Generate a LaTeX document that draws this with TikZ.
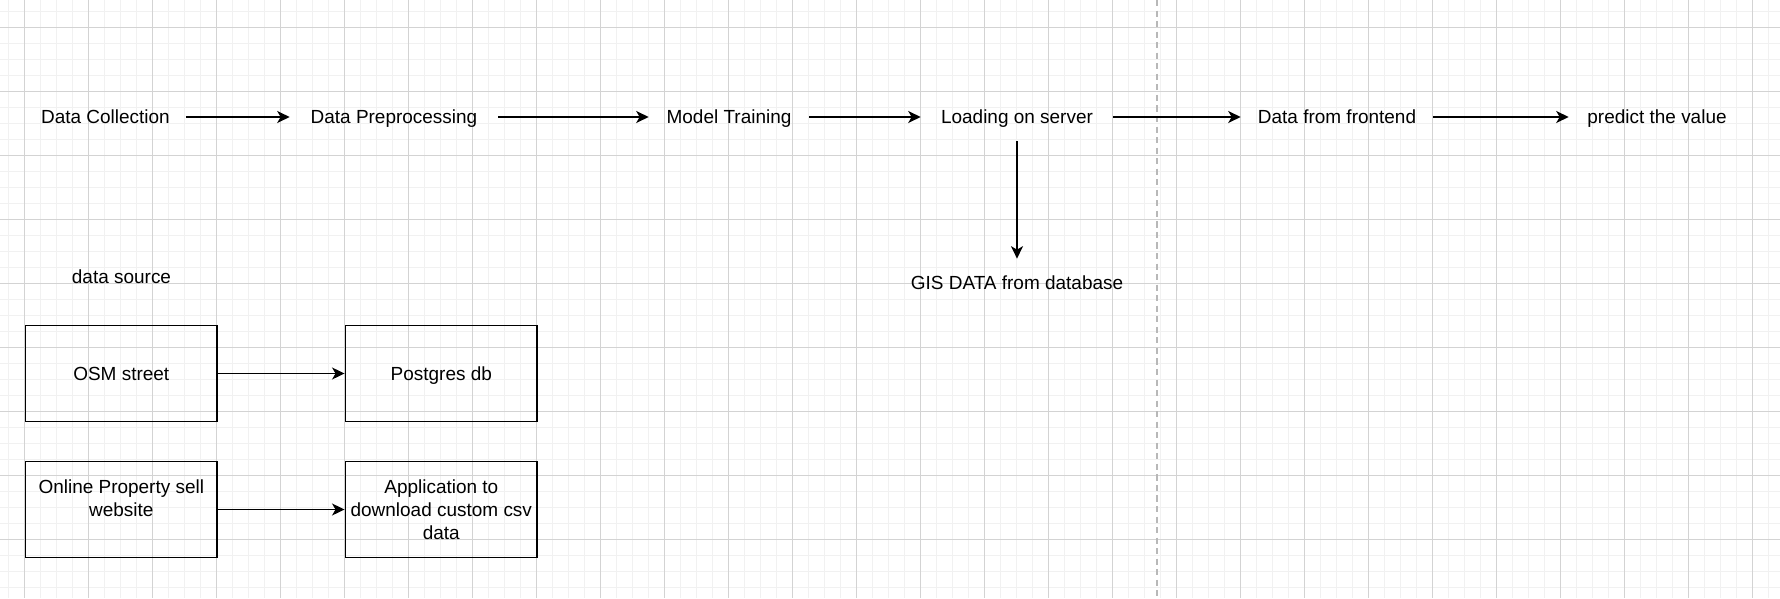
\documentclass[tikz,border=0pt]{standalone}
\usepackage{fontspec}
\setmainfont{Liberation Sans}
\usetikzlibrary{arrows.meta}
\definecolor{minorgrid}{HTML}{F1F1F1}
\definecolor{majorgrid}{HTML}{D3D3D3}
\definecolor{dashgray}{HTML}{B8B8B8}
\tikzset{
    lbl/.style={inner sep=0pt, minimum height=0.96cm, text height=8pt, text depth=0.2pt, font=\fontsize{10.8pt}{13pt}\selectfont},
    srcbox/.style={draw, line width=0.9pt, minimum width=3.84cm, minimum height=1.92cm, align=center, inner sep=1pt, font=\fontsize{10.8pt}{13pt}\selectfont},
    onebox/.style={srcbox, text height=8pt, text depth=0.2pt},
    flow/.style={line width=0.9pt, -{Stealth[length=0.25cm, width=0.24cm, inset=0.07cm]}}
}
\begin{document}
\begin{tikzpicture}[x=0.02cm, y=-0.02cm]
            \useasboundingbox[fill=white] (0,0) rectangle (1780,598);
            \begin{scope}
            \clip (0,0) rectangle (1780,598);
            \foreach \i in {0,...,111} \draw[minorgrid, line width=0.5pt] (8.3+16*\i,0) -- (8.3+16*\i,598);
            \foreach \i in {0,...,36} \draw[minorgrid, line width=0.5pt] (0,11.3+16*\i) -- (1780,11.3+16*\i);
            \foreach \i in {0,...,27} \draw[majorgrid, line width=0.5pt] (24.3+64*\i,0) -- (24.3+64*\i,598);
            \foreach \i in {0,...,8} \draw[majorgrid, line width=0.5pt] (0,27.3+64*\i) -- (1780,27.3+64*\i);
            \end{scope}
            \draw[dashgray, line width=0.9pt, dash pattern=on 3.5pt off 2.5pt] (1157,0) -- (1157,598);

            \node[lbl, minimum width=3.2cm] (collect) at (105.5,117) {Data Collection};
            \node[lbl, minimum width=4.16cm] (prep) at (394,117) {Data Preprocessing};
            \node[lbl, minimum width=3.2cm] (train) at (729,117) {Model Training};
            \node[lbl, minimum width=3.84cm] (server) at (1017,117) {Loading on server};
            \node[lbl, minimum width=3.84cm] (frontend) at (1337,117) {Data from frontend};
            \node[lbl, minimum width=3.52cm] (predict) at (1657,117) {predict the value};
            \node[lbl, minimum width=4.16cm] (gis) at (1017,283) {GIS DATA from database};
            \node[lbl] (source) at (121.5,277) {data source};

            \node[onebox] (osm) at (121.3,373.5) {OSM street};
            \node[onebox] (pg) at (441.3,373.5) {Postgres db};
            \node[srcbox] (online) at (121.3,509.5) {Online Property sell\\website\\~};
            \node[srcbox] (app) at (441.3,509.5) {Application to\\download custom csv\\data};

            \draw[flow] (collect) -- (prep);
            \draw[flow] (prep) -- (train);
            \draw[flow] (train) -- (server);
            \draw[flow] (server) -- (frontend);
            \draw[flow] (frontend) -- (predict);
            \draw[flow] (server) -- (gis);
            \draw[flow] (osm) -- (pg);
            \draw[flow] (online) -- (app);
        \end{tikzpicture}
\end{document}
